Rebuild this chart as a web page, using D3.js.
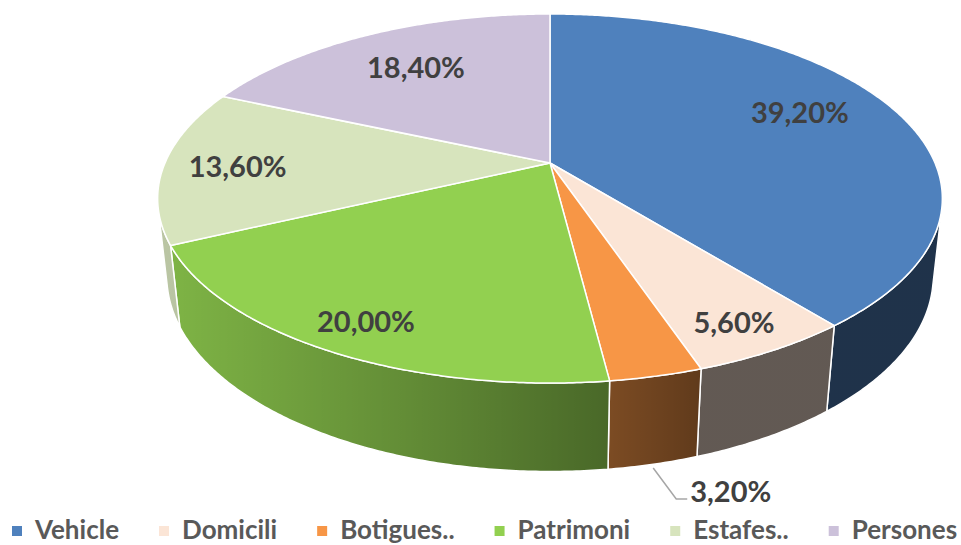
<!DOCTYPE html>
<html>
<head>
<meta charset="utf-8">
<script src="https://cdn.jsdelivr.net/npm/d3@7"></script>
<style>
  body { margin: 0; background: #fff; }
  svg { display: block; }
</style>
</head>
<body>
<div id="chart"></div>
<script>
// data
const categories = ["Vehicle", "Domicili", "Botigues..", "Patrimoni", "Estafes..", "Persones"];
const values = [39.2, 5.6, 3.2, 20.0, 13.6, 18.4];
const colors = ["#4F81BD", "#FBE5D6", "#F79646", "#92D050", "#D7E4BD", "#CCC1DA"];

// label placement: radius fraction on the top face and a small vertical nudge
const labelR = [0.72, 0.85, null, 0.85, 0.81, 0.71];
const labelDy = [-9, 5, 0, 4, 2, 0];

const width = 961;
const height = 545;
const font = "Lato, 'Open Sans', sans-serif";

// perspective pie set-up
const cx = 550, cy = 163;   // centre of the top face on screen
const A = 385;              // half width at the centre line
const L = 4.61;             // camera distance (in radii)
const beta = Math.asin(0.4615); // elevation angle
const thick = 0.23;         // disc thickness (in radii)

function project(theta, r, w) {
  const u = r * Math.sin(theta);
  const v = -r * Math.cos(theta);
  const depth = L - (v * Math.cos(beta) + w * Math.sin(beta));
  const k = A * L / depth;
  return [cx + u * k, cy + (v * Math.sin(beta) - w * Math.cos(beta)) * k];
}

const svg = d3.select("#chart")
  .append("svg")
  .attr("width", width)
  .attr("height", height);

const defs = svg.append("defs");

// shading of the outer wall, darker toward the right
const shade = defs.append("linearGradient")
  .attr("id", "shade")
  .attr("gradientUnits", "userSpaceOnUse")
  .attr("x1", 150).attr("x2", 950).attr("y1", 0).attr("y2", 0);
[[150, 0.13], [175, 0.14], [400, 0.32], [610, 0.5], [700, 0.61], [950, 0.61]]
  .forEach(([x, o]) => {
    shade.append("stop")
      .attr("offset", (x - 150) / 800)
      .attr("stop-color", "#000")
      .attr("stop-opacity", o);
  });

const pie = d3.pie().sort(null).value(d => d);
const arcs = pie(values);

const line = d3.line();
const step = Math.PI / 360;

function arcPoints(a0, a1, r, w) {
  const pts = [];
  const n = Math.max(2, Math.ceil((a1 - a0) / step));
  for (let i = 0; i <= n; i++) {
    pts.push(project(a0 + (a1 - a0) * i / n, r, w));
  }
  return pts;
}

// visible part of the cylinder wall
const cosLim = -1 / (L * Math.cos(beta));
const vis0 = Math.acos(cosLim);
const vis1 = 2 * Math.PI - vis0;

const walls = svg.append("g");
arcs.forEach((d, i) => {
  const a0 = Math.max(d.startAngle, vis0);
  const a1 = Math.min(d.endAngle, vis1);
  if (a1 <= a0) return;
  const top = arcPoints(a0, a1, 1, 0);
  const bottom = arcPoints(a0, a1, 1, -thick).reverse();
  const p = line(top.concat(bottom)) + "Z";
  walls.append("path").attr("d", p).attr("fill", colors[i]);
  walls.append("path").attr("d", p)
    .attr("fill", "url(#shade)")
    .attr("stroke", "#fff")
    .attr("stroke-width", 1.5)
    .attr("stroke-linejoin", "round");
});

// top faces
const tops = svg.append("g");
arcs.forEach((d, i) => {
  const pts = [project(0, 0, 0)].concat(arcPoints(d.startAngle, d.endAngle, 1, 0));
  tops.append("path")
    .attr("d", line(pts) + "Z")
    .attr("fill", colors[i])
    .attr("stroke", "#fff")
    .attr("stroke-width", 1.5)
    .attr("stroke-linejoin", "round");
});

// data labels
const fmt = d3.formatLocale({decimal: ",", thousands: ".", grouping: [3], currency: ["", ""]}).format(".2f");
const labels = svg.append("g")
  .attr("font-family", font)
  .attr("font-weight", "bold")
  .attr("font-size", 29)
  .attr("fill", "#404040");

arcs.forEach((d, i) => {
  const mid = (d.startAngle + d.endAngle) / 2;
  const txt = fmt(values[i]) + "%";
  if (labelR[i] == null) {
    // small slice: label below with a leader line
    const p0 = project(mid, 1, -thick - 0.01);
    const p1 = [p0[0] + 23, p0[1] + 31];
    const p2 = [p1[0] + 11, p1[1]];
    svg.append("path")
      .attr("d", line([p0, p1, p2]))
      .attr("fill", "none")
      .attr("stroke", "#A6A6A6")
      .attr("stroke-width", 1.5);
    labels.append("text")
      .attr("x", p2[0] + 3)
      .attr("y", p2[1] - 7)
      .attr("dy", "0.35em")
      .attr("text-anchor", "start")
      .text(txt);
    return;
  }
  const p = project(mid, labelR[i], 0);
  labels.append("text")
    .attr("x", p[0])
    .attr("y", p[1] + labelDy[i])
    .attr("dy", "0.35em")
    .attr("text-anchor", "middle")
    .text(txt);
});

// legend
const legend = svg.append("g")
  .attr("font-family", font)
  .attr("font-weight", "bold")
  .attr("font-size", 26)
  .attr("fill", "#595959");

let lx = 12;
categories.forEach((c, i) => {
  legend.append("rect")
    .attr("x", lx).attr("y", 526)
    .attr("width", 10).attr("height", 10)
    .attr("fill", colors[i]);
  const t = legend.append("text")
    .attr("x", lx + 23)
    .attr("y", 539)
    .text(c);
  lx += 23 + t.node().getComputedTextLength() + 40;
});
</script>
</body>
</html>
